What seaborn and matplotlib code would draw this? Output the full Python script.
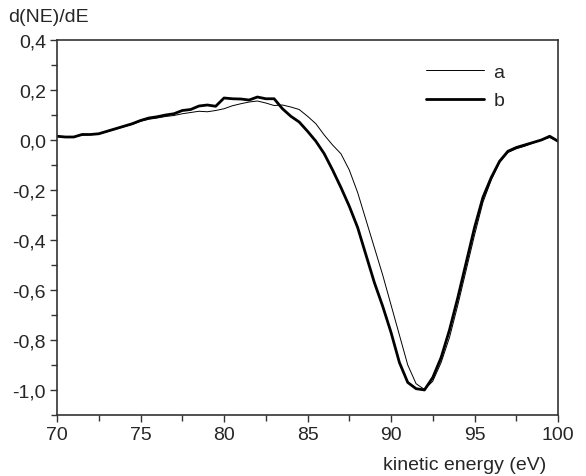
import matplotlib
matplotlib.use("Agg")
import matplotlib.pyplot as plt
import numpy as np
import pandas as pd
import seaborn as sns
from matplotlib.ticker import FuncFormatter, MultipleLocator

# kinetic energy grid (eV)
energy = [70.0, 70.5, 71.0, 71.5, 72.0, 72.5, 73.0, 73.5, 74.0, 74.5,
          75.0, 75.5, 76.0, 76.5, 77.0, 77.5, 78.0, 78.5, 79.0, 79.5,
          80.0, 80.5, 81.0, 81.5, 82.0, 82.5, 83.0, 83.5, 84.0, 84.5,
          85.0, 85.5, 86.0, 86.5, 87.0, 87.5, 88.0, 88.5, 89.0, 89.5,
          90.0, 90.5, 91.0, 91.5, 92.0, 92.5, 93.0, 93.5, 94.0, 94.5,
          95.0, 95.5, 96.0, 96.5, 97.0, 97.5, 98.0, 98.5, 99.0, 99.5,
          100.0]

# spectrum a (thin)
spec_a = [0.015, 0.012, 0.012, 0.020, 0.022, 0.025, 0.033, 0.043, 0.053, 0.062,
          0.075, 0.083, 0.088, 0.094, 0.098, 0.105, 0.110, 0.115, 0.113, 0.118,
          0.125, 0.137, 0.145, 0.152, 0.156, 0.148, 0.138, 0.140, 0.132, 0.122,
          0.095, 0.065, 0.020, -0.020, -0.055, -0.120, -0.210, -0.320, -0.430, -0.540,
          -0.660, -0.780, -0.900, -0.975, -0.998, -0.965, -0.890, -0.790, -0.660, -0.520,
          -0.380, -0.250, -0.160, -0.090, -0.050, -0.035, -0.025, -0.012, 0.000, 0.010,
          -0.005]

# spectrum b (thick)
spec_b = [0.015, 0.012, 0.012, 0.022, 0.022, 0.025, 0.035, 0.045, 0.055, 0.065,
          0.078, 0.088, 0.093, 0.100, 0.105, 0.118, 0.122, 0.136, 0.140, 0.135,
          0.168, 0.165, 0.164, 0.160, 0.172, 0.165, 0.165, 0.125, 0.095, 0.072,
          0.035, -0.005, -0.055, -0.120, -0.190, -0.265, -0.350, -0.460, -0.570, -0.665,
          -0.770, -0.890, -0.970, -0.995, -1.000, -0.950, -0.870, -0.760, -0.630, -0.490,
          -0.350, -0.230, -0.150, -0.085, -0.045, -0.030, -0.020, -0.010, 0.000, 0.015,
          -0.005]

sns.set_style("ticks")
plt.rcParams["font.family"] = ["Liberation Sans", "DejaVu Sans"]
plt.rcParams["font.size"] = 14

fig = plt.figure(figsize=(5.86, 4.77), dpi=100)
ax = fig.add_axes([0.0973, 0.128, 0.855, 0.786])

sns.lineplot(x=energy, y=spec_a, ax=ax, color="black", linewidth=0.7, label="a")
sns.lineplot(x=energy, y=spec_b, ax=ax, color="black", linewidth=2.0, label="b")

ax.set_xlim(70, 100)
ax.set_ylim(-1.1, 0.4)
ax.xaxis.set_major_locator(MultipleLocator(5))
ax.xaxis.set_minor_locator(MultipleLocator(2.5))
ax.yaxis.set_major_locator(MultipleLocator(0.2))
ax.yaxis.set_minor_locator(MultipleLocator(0.1))
ax.yaxis.set_major_formatter(FuncFormatter(lambda v, p: f"{v:.1f}".replace(".", ",").replace("-0,0", "0,0")))
ax.xaxis.set_major_formatter(FuncFormatter(lambda v, p: f"{v:.0f}"))
ax.tick_params(which="major", direction="out", length=5, width=1, labelsize=14, color="#333333", pad=3)
ax.tick_params(which="minor", direction="out", length=4, width=1, color="#333333")
for s in ax.spines.values():
    s.set_visible(True)
    s.set_linewidth(1.2)
    s.set_color("#333333")
ax.set_xlabel("")
ax.set_ylabel("")

fig.text(8 / 586, 1 - 17 / 477, "d(NE)/dE", ha="left", va="center", fontsize=14)
fig.text(546 / 586, 1 - 466 / 477, "kinetic energy (eV)", ha="right", va="center", fontsize=14)

ax.legend(loc="upper left", bbox_to_anchor=(0.72, 0.958), frameon=False,
          handlelength=3.0, handletextpad=0.5, labelspacing=0.55, fontsize=14,
          borderaxespad=0)

fig.savefig("out.png", dpi=100)
